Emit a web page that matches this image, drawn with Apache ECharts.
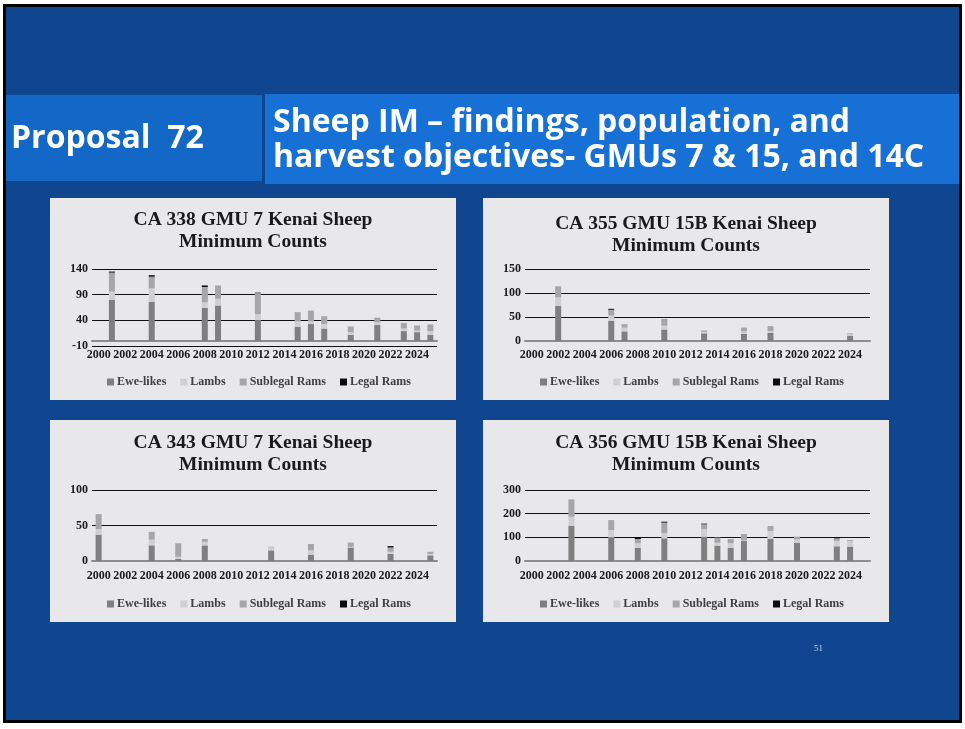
<!DOCTYPE html>
<html>
<head>
<meta charset="utf-8">
<script src="https://cdn.jsdelivr.net/npm/echarts@6/dist/echarts.min.js"></script>
<style>
  html, body { margin: 0; padding: 0; background: #fff; }
  #slide { width: 965px; height: 729px; }
</style>
</head>
<body>
<div id="slide"></div>
<script>
const years = ['2000','2001','2002','2003','2004','2005','2006','2007','2008','2009','2010','2011','2012',
  '2013','2014','2015','2016','2017','2018','2019','2020','2021','2022','2023','2024','2025']
const seriesNames = ['Ewe-likes', 'Lambs', 'Sublegal Rams', 'Legal Rams']
const seriesColors = ['#7f7f7f', '#d0d0d0', '#a6a6a6', '#0d0d0d']

// CA 338 GMU 7
const ca338Years = [2001, 2004, 2008, 2009, 2012, 2015, 2016, 2017, 2019, 2021, 2023, 2024, 2025]
const ca338Ewe = [80, 76, 64, 69, 41, 27, 33, 24, 12, 31, 19, 17, 12]
const ca338Lambs = [16, 26, 11, 13, 11, 11, 5, 9, 5, 5, 5, 3, 7]
const ca338Sublegal = [37, 23, 30, 26, 41, 18, 21, 15, 11, 9, 11, 10, 13]
const ca338Legal = [2, 3, 3, 0, 1, 0, 0, 0, 0, 0, 0, 0, 0]

// CA 355 GMU 15B
const ca355Years = [2002, 2006, 2007, 2010, 2013, 2016, 2018, 2024]
const ca355Ewe = [73, 42, 20, 24, 16, 15, 17, 11]
const ca355Lambs = [18, 11, 8, 8, 3, 5, 4, 3]
const ca355Sublegal = [23, 12, 7, 14, 3, 8, 10, 2]
const ca355Legal = [0, 2, 0, 0, 0, 0, 0, 0]

// CA 343 GMU 7
const ca343Years = [2000, 2004, 2006, 2008, 2013, 2016, 2019, 2022, 2025]
const ca343Ewe = [37, 22, 3, 22, 15, 9, 19, 10, 8]
const ca343Lambs = [8, 8, 3, 5, 4, 6, 1, 3, 2]
const ca343Sublegal = [21, 11, 19, 4, 1, 9, 6, 6, 3]
const ca343Legal = [0, 0, 0, 0, 0, 0, 0, 2, 0]

// CA 356 GMU 15B
const ca356Years = [2003, 2006, 2008, 2010, 2013, 2014, 2015, 2016, 2018, 2020, 2023, 2024]
const ca356Ewe = [148, 99, 56, 96, 103, 65, 55, 86, 94, 77, 62, 61]
const ca356Lambs = [39, 32, 19, 21, 32, 12, 21, 3, 33, 15, 23, 24]
const ca356Sublegal = [73, 42, 18, 45, 20, 22, 17, 25, 21, 11, 8, 4]
const ca356Legal = [0, 0, 7, 4, 3, 0, 0, 0, 0, 0, 2, 0]

const panels = [
  { title: 'CA 338 GMU 7 Kenai Sheep\nMinimum Counts', yrs: ca338Years,
    vals: [ca338Ewe, ca338Lambs, ca338Sublegal, ca338Legal], min: -10, max: 140, step: 50,
    box: [50, 198, 406, 202], grid: [92, 269, 345, 77], titleTop: 209, labelMargin: 3, legendTop: 371 },
  { title: 'CA 355 GMU 15B Kenai Sheep\nMinimum Counts', yrs: ca355Years,
    vals: [ca355Ewe, ca355Lambs, ca355Sublegal, ca355Legal], min: 0, max: 150, step: 50,
    box: [483, 198, 406, 202], grid: [525, 269, 345, 72], titleTop: 213, labelMargin: 8, legendTop: 371 },
  { title: 'CA 343 GMU 7 Kenai Sheep\nMinimum Counts', yrs: ca343Years,
    vals: [ca343Ewe, ca343Lambs, ca343Sublegal, ca343Legal], min: 0, max: 100, step: 50,
    box: [50, 420, 406, 202], grid: [92, 490, 345, 71], titleTop: 432, labelMargin: 9, legendTop: 593 },
  { title: 'CA 356 GMU 15B Kenai Sheep\nMinimum Counts', yrs: ca356Years,
    vals: [ca356Ewe, ca356Lambs, ca356Sublegal, ca356Legal], min: 0, max: 300, step: 100,
    box: [483, 420, 406, 202], grid: [525, 490, 345, 71], titleTop: 432, labelMargin: 9, legendTop: 593 }
]

const serif = '"Liberation Serif", "Times New Roman", serif'

function spread(yrs, vals) {
  const out = years.map(() => '-')
  yrs.forEach((y, i) => { out[years.indexOf(String(y))] = vals[i] })
  return out
}

const chart = echarts.init(document.getElementById('slide'), null, { renderer: 'canvas' })

const graphic = [
  { type: 'rect', shape: { x: 4.5, y: 5.5, width: 956, height: 716 },
    style: { fill: '#10468f', stroke: '#000', lineWidth: 3 }, z: -10 },
  { type: 'rect', shape: { x: 6, y: 95, width: 256, height: 86 }, style: { fill: '#1367c7' }, z: -9 },
  { type: 'rect', shape: { x: 265, y: 94, width: 694, height: 90 }, style: { fill: '#1670d6' }, z: -9 },
  { type: 'text', left: 11, top: 123, z: 10,
    style: { text: 'Proposal  72', fill: '#fff', font: 'bold 32px "Open Sans", "DejaVu Sans", sans-serif' } },
  { type: 'text', left: 273, top: 105, z: 10,
    style: { text: 'Sheep IM – findings, population, and\nharvest objectives- GMUs 7 & 15, and 14C',
      fill: '#fff', lineHeight: 35, font: 'bold 32px "Open Sans", "DejaVu Sans", sans-serif' } },
  { type: 'text', left: 814, top: 644, z: 10,
    style: { text: '51', fill: '#c8d4e8', font: '9px ' + serif } }
]
panels.forEach(p => {
  graphic.push({ type: 'rect', shape: { x: p.box[0], y: p.box[1], width: p.box[2], height: p.box[3] },
    style: { fill: '#e8e8ea' }, z: -8 })
})

const option = {
  animation: false,
  backgroundColor: '#fff',
  graphic,
  title: panels.map(p => ({
    text: p.title,
    left: p.box[0] + p.box[2] / 2,
    textAlign: 'center',
    top: p.titleTop,
    padding: 0,
    textStyle: { fontFamily: serif, fontWeight: 'bold', fontSize: 19.5, lineHeight: 22, color: '#1a1a1a' }
  })),
  legend: panels.map(p => ({
    data: seriesNames,
    left: p.box[0] + p.box[2] / 2 - 151,
    top: p.legendTop,
    itemWidth: 7,
    itemHeight: 7,
    itemGap: 14,
    icon: 'rect',
    textStyle: { fontFamily: serif, fontWeight: 'bold', fontSize: 12, color: '#404040', padding: [0, 0, 0, -2] }
  })),
  grid: panels.map(p => ({ left: p.grid[0], top: p.grid[1], width: p.grid[2], height: p.grid[3] })),
  xAxis: panels.map((p, i) => ({
    type: 'category',
    gridIndex: i,
    data: years,
    axisTick: { show: false },
    axisLine: { lineStyle: { color: '#8c8c8c', width: 2 } },
    axisLabel: { interval: 1, margin: p.labelMargin, fontFamily: serif, fontWeight: 'bold', fontSize: 12, color: '#1a1a1a' }
  })),
  yAxis: panels.map((p, i) => ({
    type: 'value',
    gridIndex: i,
    min: p.min,
    max: p.max,
    interval: p.step,
    axisLine: { show: false },
    axisTick: { show: false },
    splitLine: { lineStyle: { color: '#111', width: 1 } },
    axisLabel: { margin: 4, fontFamily: serif, fontWeight: 'bold', fontSize: 12, color: '#1a1a1a' }
  })),
  series: []
}

panels.forEach((p, i) => {
  seriesNames.forEach((name, k) => {
    option.series.push({
      type: 'bar',
      name,
      xAxisIndex: i,
      yAxisIndex: i,
      stack: 'panel' + i,
      barWidth: 6,
      itemStyle: { color: seriesColors[k] },
      data: spread(p.yrs, p.vals[k])
    })
  })
})

chart.setOption(option)
</script>
</body>
</html>
